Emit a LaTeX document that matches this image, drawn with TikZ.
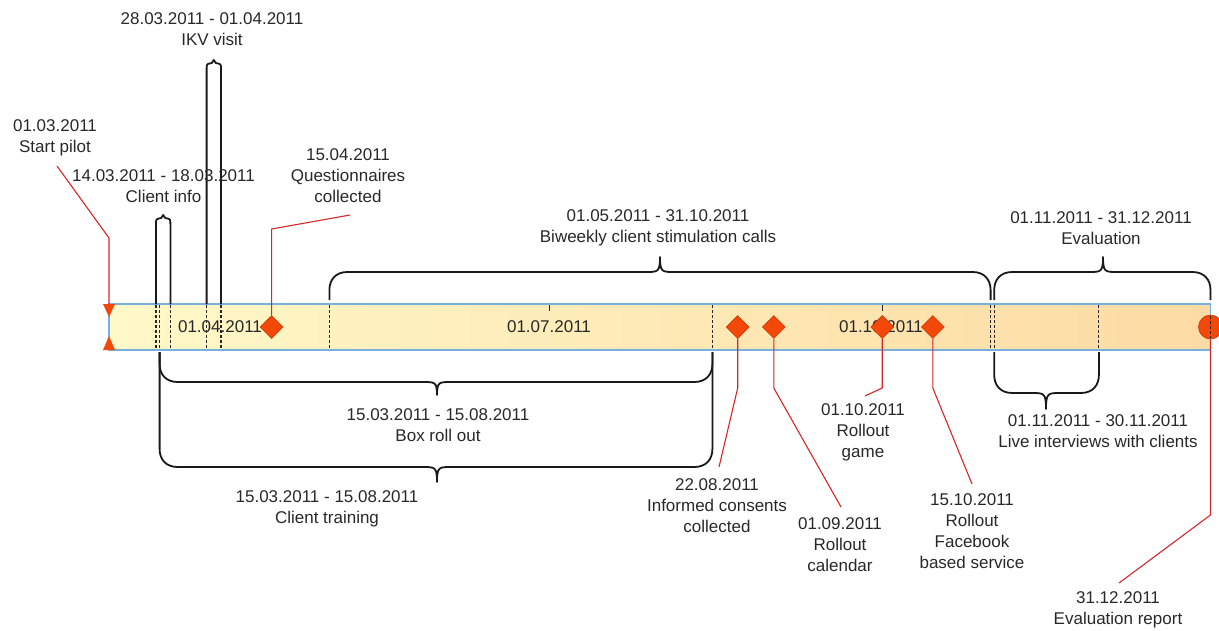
\documentclass[tikz,border=0pt]{standalone}
\usepackage{fontspec}
\setmainfont{Liberation Sans}
\usetikzlibrary{shapes.geometric,calc}
\definecolor{barL}{RGB}{255,248,200}
\definecolor{barR}{RGB}{253,219,164}
\definecolor{barline}{RGB}{120,175,220}
\definecolor{redline}{RGB}{212,40,40}
\definecolor{evfill}{RGB}{242,72,10}
\definecolor{evdraw}{RGB}{205,52,0}
\definecolor{txt}{RGB}{40,40,40}
\definecolor{brkc}{RGB}{25,25,25}
\newcommand\tlbrace[6]{%
 \pgfmathsetmacro\bsg{((#5)>(#4))?1:-1}%
 \pgfmathsetmacro\bya{#5-18*\bsg}%
 \pgfmathsetmacro\byb{#5-8*\bsg}%
 \draw[brk] (#1,#4) -- (#1,\bya) .. controls (#1,\byb) and (#1+6,#5) .. (#1+18,#5) -- (#3-14,#5) .. controls (#3-2,#5) and (#3,#5) .. (#3,#6) .. controls (#3,#5) and (#3+2,#5) .. (#3+14,#5) -- (#2-18,#5) .. controls (#2-6,#5) and (#2,\byb) .. (#2,\bya) -- (#2,#4);}
\newcommand\tlspike[4]{%
 \pgfmathsetmacro\smid{(#1+#2)/2}%
 \draw[brk] (#1,#4) -- (#1,#3+9) .. controls (#1,#3+4) .. (\smid-2,#3+3) -- (\smid,#3) -- (\smid+2,#3+3) .. controls (#2,#3+4) .. (#2,#3+9) -- (#2,#4);}
\begin{document}
\begin{tikzpicture}[x=1pt,y=-1pt,
  lbl/.style={font=\fontsize{17}{21}\selectfont, text=txt, align=center, inner sep=0pt},
  redl/.style={draw=redline, line width=1.1pt},
  brk/.style={draw=brkc, line width=1.8pt, line join=round},
  dia/.style={diamond, aspect=1, fill=evfill, draw=evdraw, line width=0.6pt, minimum size=23pt, inner sep=0pt},
  dsh/.style={draw=black!85, dash pattern=on 3pt off 2pt, line width=1.1pt},
  tick/.style={draw=black!85, line width=1.1pt}]
\useasboundingbox (0,0) rectangle (1219,630);
% bar
\shade[left color=barL, right color=barR] (109,304) rectangle (1210.5,350);
\node[lbl] (t04) at (220,327) {01.04.2011};
\node[lbl] (t07) at (549,327) {01.07.2011};
\node[lbl] (t10) at (881,327) {01.10.2011};
\draw[tick] (549.8,304) -- (549.8,311);
\draw[tick] (882.2,304) -- (882.2,311);
\foreach \x in {156.0,159.6,170.4,206.6,221.0,329.4,712.4,990.6,994.2,1098.9,1210.5}
  \draw[dsh] (\x,305) -- (\x,349);
\draw[draw=barline, line width=1.2pt] (109,304) rectangle (1210.5,350);
% braces
\tlbrace{329.4}{990.6}{660}{300}{272}{257}
\tlbrace{994.2}{1210.5}{1103}{300}{272}{257}
\tlbrace{159.6}{712.4}{437}{352}{382}{395}
\tlbrace{159.6}{712.4}{437}{352}{467}{482}
\tlbrace{994.2}{1098.9}{1046}{352}{393}{409}
% spikes
\tlspike{156.0}{170.4}{215}{304}
\tlspike{206.6}{221.0}{60}{304}
% labels
\node[lbl] (lstart) at (55,138) {01.03.2011\\Start pilot};
\node[lbl] (lci) at (163.5,186) {14.03.2011 - 18.03.2011\\Client info};
\node[lbl] (likv) at (212,29) {28.03.2011 - 01.04.2011\\IKV visit};
\node[lbl] (lq) at (348,176) {15.04.2011\\Questionnaires\\collected};
\node[lbl] (lbw) at (658,228) {01.05.2011 - 31.10.2011\\Biweekly client stimulation calls};
\node[lbl] (lev) at (1101,228) {01.11.2011 - 31.12.2011\\Evaluation};
\node[lbl] (lbox) at (438,425) {15.03.2011 - 15.08.2011\\Box roll out};
\node[lbl] (lct) at (327,509) {15.03.2011 - 15.08.2011\\Client training};
\node[lbl] (linf) at (717,506) {22.08.2011\\Informed consents\\collected};
\node[lbl] (lcal) at (840,545) {01.09.2011\\Rollout\\calendar};
\node[lbl] (lgame) at (863,432) {01.10.2011\\Rollout\\game};
\node[lbl] (lfb) at (972,531) {15.10.2011\\Rollout\\Facebook\\based service};
\node[lbl] (llive) at (1098,431) {01.11.2011 - 30.11.2011\\Live interviews with clients};
\node[lbl] (ler) at (1118,610) {31.12.2011\\Evaluation report};
% connector coordinates
\coordinate (st) at (109,304);
\coordinate (stb) at (109,238);
\coordinate (ste) at (57,166);
\coordinate (qb) at (271.6,229);
\coordinate (qe) at (350,215);
\coordinate (ib) at (737.7,388);
\coordinate (ie) at (719,467);
\coordinate (cb) at (773.8,388);
\coordinate (ce) at (841,507);
\coordinate (gb) at (882.2,388);
\coordinate (ge) at (865,396);
\coordinate (fb) at (932.8,388);
\coordinate (fe) at (972,484);
\coordinate (eb) at (1210.5,515);
\coordinate (ee) at (1119,583);
% markers
\node[dia] (mq) at (271.6,327) {};
\node[dia] (minf) at (737.7,327) {};
\node[dia] (mcal) at (773.8,327) {};
\node[dia] (mgame) at (882.2,327) {};
\node[dia] (mfb) at (932.8,327) {};
\node[circle, fill=evfill, draw=evdraw, line width=0.6pt, minimum size=24pt, inner sep=0pt] (mer) at (1210.5,327) {};
\draw[dsh] (1210.5,316) -- (1210.5,338);
\fill[evfill] (103,304) -- (115,304) -- (109,317) -- cycle;
\fill[evfill] (103,350) -- (115,350) -- (109,336) -- cycle;
% red connectors
\draw[redl] (st) -- (stb) -- (ste);
\draw[redl] (mq.north) -- (qb) -- (qe);
\draw[redl] (minf.south) -- (ib) -- (ie);
\draw[redl] (mcal.south) -- (cb) -- (ce);
\draw[redl] (mgame.south) -- (gb) -- (ge);
\draw[redl] (mfb.south) -- (fb) -- (fe);
\draw[redl] (mer.south) -- (eb) -- (ee);
\end{tikzpicture}
\end{document}
